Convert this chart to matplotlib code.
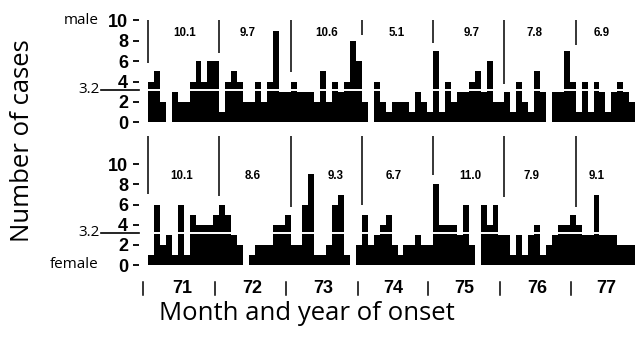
import matplotlib
matplotlib.use('Agg')
import matplotlib.pyplot as plt
import numpy as np
from matplotlib.transforms import blended_transform_factory

# ---------------- data ----------------
years = ['71', '72', '73', '74', '75', '76', '77']
male_cases = [4, 5, 2, 0, 3, 2, 2, 4, 6, 4, 6, 6,
              1, 4, 5, 4, 2, 2, 4, 2, 4, 9, 3, 3,
              4, 3, 3, 3, 2, 5, 2, 4, 3, 4, 8, 6,
              2, 0, 4, 2, 1, 2, 2, 2, 1, 3, 2, 1,
              7, 1, 4, 2, 3, 3, 4, 5, 3, 6, 2, 2,
              3, 1, 4, 2, 1, 5, 3, 0, 3, 3, 7, 4,
              1, 4, 1, 4, 3, 1, 3, 4, 3, 2]
female_cases = [1, 6, 2, 3, 1, 6, 1, 5, 4, 4, 4, 5,
                6, 5, 3, 2, 0, 1, 2, 2, 2, 4, 4, 5,
                2, 2, 6, 9, 1, 1, 2, 6, 7, 1, 0, 2,
                5, 2, 3, 4, 5, 2, 1, 2, 2, 3, 2, 2,
                8, 4, 4, 4, 3, 6, 2, 0, 6, 4, 6, 3,
                3, 1, 3, 1, 3, 4, 1, 2, 3, 4, 4, 5,
                4, 3, 3, 7, 3, 3, 3, 2, 2, 2]
male_rates = ['10.1', '9.7', '10.6', '5.1', '9.7', '7.8', '6.9']
female_rates = ['10.1', '8.6', '9.3', '6.7', '11.0', '7.9', '9.1']
mean_level = 3.2
y_ticks = [0, 2, 4, 6, 8, 10]

# label / separator layout (in month units)
year_starts = [0, 12, 24, 36, 48, 60, 72]
male_rate_pos = [6.2, 16.8, 30.1, 41.8, 54.4, 65.0, 76.4]
female_rate_pos = [5.6, 17.7, 31.6, 41.4, 54.2, 64.6, 75.6]
male_sep_ends = [5.8, 6.8, 4.9, 8.6, 7.8, 3.8, 7.6]
female_sep_ends = [7.1, 6.9, 5.8, 6.0, 8.9, 6.8, 5.8]
year_tick_pos = [-0.8, 11.3, 23.2, 35.3, 47.2, 59.3, 71.2]
year_label_pos = [5.7, 17.6, 29.5, 41.3, 53.2, 65.5, 77.1]

LABEL_FONT = ['Open Sans', 'DejaVu Sans']
BOLD_FONT = ['Liberation Sans', 'DejaVu Sans']

W, H = 636, 341
fig = plt.figure(figsize=(W / 100, H / 100), dpi=100)

xl = (-1.52, 82.15)
ax1 = fig.add_axes([139 / W, (H - 122.3) / H, 497 / W, 105.06 / H])
ax2 = fig.add_axes([139 / W, (H - 265) / H, 497 / W, 130.9 / H])
ax1.set_ylim(0, 10.3)
ax2.set_ylim(0, 13.0)


def draw_panel(ax, vals, rates, rate_pos, rate_y, sep_ends, sep_top):
    edges = np.arange(len(vals) + 1)
    ax.stairs(vals, edges, fill=True, color='black', linewidth=0)
    ax.axhline(mean_level, color='white', lw=1.4)
    ax.set_xlim(*xl)
    for s in ax.spines.values():
        s.set_visible(False)
    ax.set_xticks([])
    ax.set_yticks(y_ticks)
    ax.set_yticklabels([str(t) for t in y_ticks], family=BOLD_FONT,
                       fontweight='bold', fontsize=13)
    ax.tick_params(axis='y', length=4.3, width=1.3, pad=3.5, color='black')
    ax.vlines(year_starts, sep_ends, sep_top, color='black', lw=1.1)
    for lab, p in zip(rates, rate_pos):
        ax.text(p, rate_y, lab, ha='center', va='center', fontsize=8.3,
                fontweight='bold', family=BOLD_FONT)
    # mean level marker on the left
    ax.plot([-8.0, xl[0]], [mean_level, mean_level], color='black', lw=1.2,
            clip_on=False)
    ax.text(-8.1, mean_level, '3.2', ha='right', va='center', fontsize=11,
            family=LABEL_FONT)


draw_panel(ax1, male_cases, male_rates, male_rate_pos, 8.75, male_sep_ends, 10.0)
draw_panel(ax2, female_cases, female_rates, female_rate_pos, 8.84, female_sep_ends, 12.8)

ax1.text(-8.3, 9.95, 'male', ha='right', va='center', fontsize=11, family=LABEL_FONT)
ax2.text(-8.3, 0.05, 'female', ha='right', va='center', fontsize=11, family=LABEL_FONT)

# year ticks and labels below lower panel
tr = blended_transform_factory(ax2.transData, ax2.transAxes)
for p in year_tick_pos:
    ax2.plot([p, p], [-0.13, -0.23], color='black', lw=1.1, transform=tr,
             clip_on=False)
for lab, p in zip(years, year_label_pos):
    ax2.text(p, -0.178, lab, ha='center', va='center', fontsize=13,
             fontweight='bold', family=BOLD_FONT, transform=tr)

fig.text(23 / W, 1 - 141 / H, 'Number of cases', rotation=90, ha='center',
         va='center', fontsize=18.5, family=LABEL_FONT)
fig.text(306.5 / W, 1 - 314 / H, 'Month and year of onset', ha='center',
         va='center', fontsize=18.5, family=LABEL_FONT)

fig.savefig('out.png', dpi=100)
